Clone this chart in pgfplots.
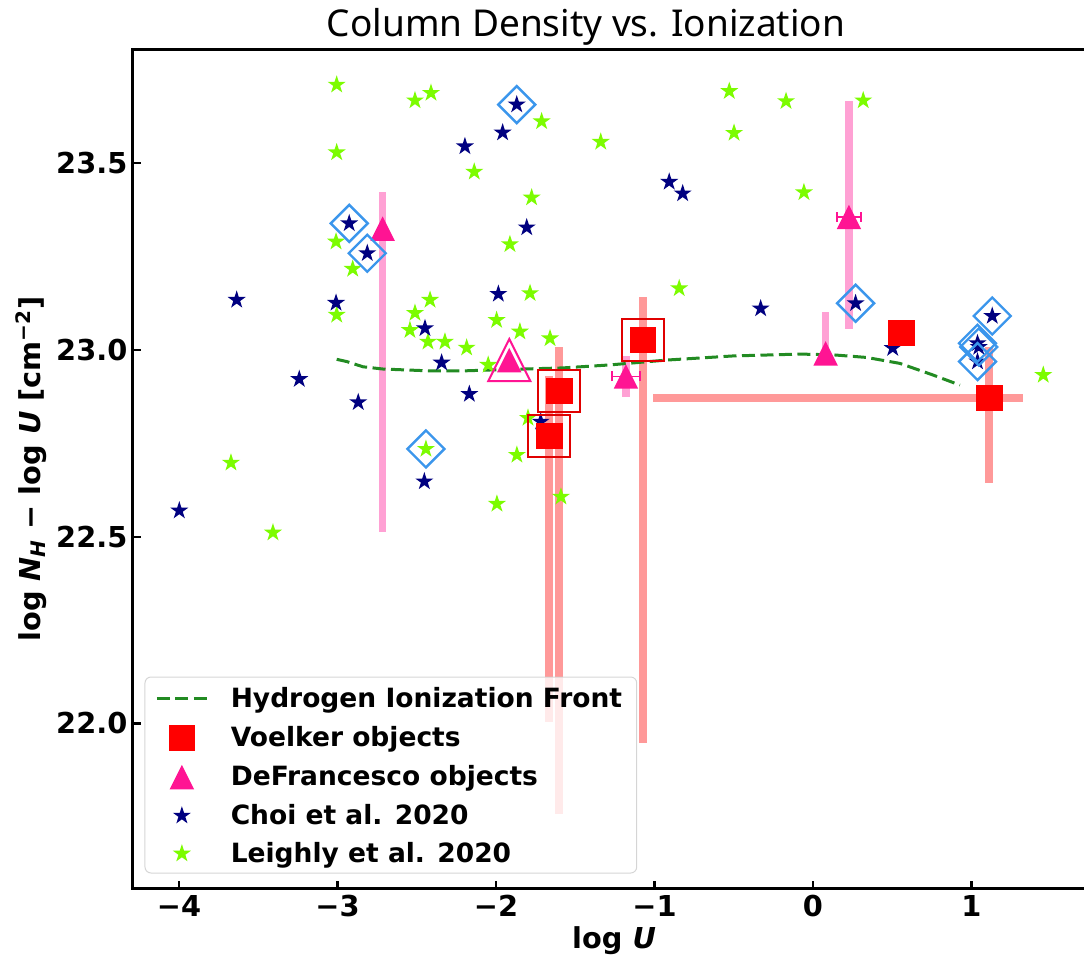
\documentclass[border=0pt]{standalone}
\usepackage{fontspec}
\setmainfont{DejaVu Sans}
\newfontfamily\titlefont{Noto Sans}
\usepackage{pgfplots}
\pgfplotsset{compat=1.18}
\usetikzlibrary{plotmarks}

\definecolor{vbar}{HTML}{FF9999}
\definecolor{pbar}{HTML}{FFA1D4}
\definecolor{dpink}{HTML}{FF1493}
\definecolor{navyc}{HTML}{000080}
\definecolor{lgreen}{HTML}{7CFC00}
\definecolor{fgreen}{HTML}{228B22}
\definecolor{dblue}{HTML}{3B96EC}
\definecolor{boxred}{HTML}{E00000}

\pgfdeclareplotmark{fstar}{%
  \pgfpathmoveto{\pgfpointpolar{90}{\pgfplotmarksize}}%
  \pgfpathlineto{\pgfpointpolar{126}{0.382\pgfplotmarksize}}%
  \pgfpathlineto{\pgfpointpolar{162}{\pgfplotmarksize}}%
  \pgfpathlineto{\pgfpointpolar{198}{0.382\pgfplotmarksize}}%
  \pgfpathlineto{\pgfpointpolar{234}{\pgfplotmarksize}}%
  \pgfpathlineto{\pgfpointpolar{270}{0.382\pgfplotmarksize}}%
  \pgfpathlineto{\pgfpointpolar{306}{\pgfplotmarksize}}%
  \pgfpathlineto{\pgfpointpolar{342}{0.382\pgfplotmarksize}}%
  \pgfpathlineto{\pgfpointpolar{18}{\pgfplotmarksize}}%
  \pgfpathlineto{\pgfpointpolar{54}{0.382\pgfplotmarksize}}%
  \pgfpathclose
  \pgfusepathqfill
}
\pgfdeclareplotmark{mtri}{%
  \pgfpathmoveto{\pgfqpoint{0pt}{\pgfplotmarksize}}%
  \pgfpathlineto{\pgfqpoint{-\pgfplotmarksize}{-\pgfplotmarksize}}%
  \pgfpathlineto{\pgfqpoint{\pgfplotmarksize}{-\pgfplotmarksize}}%
  \pgfpathclose
  \pgfusepathqfill
}
\pgfdeclareplotmark{mtrio}{%
  \pgfpathmoveto{\pgfqpoint{0pt}{\pgfplotmarksize}}%
  \pgfpathlineto{\pgfqpoint{-\pgfplotmarksize}{-\pgfplotmarksize}}%
  \pgfpathlineto{\pgfqpoint{\pgfplotmarksize}{-\pgfplotmarksize}}%
  \pgfpathclose
  \pgfusepathqstroke
}
\pgfdeclareplotmark{mdia}{%
  \pgfpathmoveto{\pgfqpoint{0pt}{\pgfplotmarksize}}%
  \pgfpathlineto{\pgfqpoint{\pgfplotmarksize}{0pt}}%
  \pgfpathlineto{\pgfqpoint{0pt}{-\pgfplotmarksize}}%
  \pgfpathlineto{\pgfqpoint{-\pgfplotmarksize}{0pt}}%
  \pgfpathclose
  \pgfusepathqstroke
}

\pgfplotsset{markleg/.style={legend image code/.code={\path[draw=none,fill=none] (0pt,0pt) -- (25pt,0pt);
    \draw[##1, only marks] plot coordinates {(12.5pt,0pt)};}}}

\newcommand{\lstrut}{\rule[-3.1pt]{0pt}{10.1pt}}

\begin{document}
\begin{tikzpicture}
\begin{axis}[
  scale only axis, width=475.65pt, height=419.65pt,
  xmin=-4.292, xmax=1.71, ymin=21.558, ymax=23.805,
  clip=false,
  axis line style={draw=none},
  tick align=inside, tick pos=left,
  major tick length=4pt,
  every tick/.style={black, line width=1.1pt},
  xtick={-4,-3,-2,-1,0,1}, xticklabels={−4,−3,−2,−1,0,1},
  ytick={22,22.5,23,23.5}, yticklabels={22.0,22.5,23.0,23.5},
  minor tick num=0,
  ticklabel style={font=\fontsize{14.4}{16}\selectfont\bfseries},
  xticklabel style={anchor=base, yshift=-14.05pt, inner sep=0pt},
  yticklabel style={anchor=east, inner sep=0pt, xshift=-2.5pt},
  legend style={at={(0.01293,0.01859)}, anchor=south west, draw=none, fill=none,
    inner xsep=5pt, inner ysep=3.7pt, /tikz/row sep=7.4pt, /tikz/column sep=11.2pt,
    nodes={inner sep=0pt}, font=\fontsize{13.25}{15}\selectfont\bfseries},
  legend cell align=left,
  legend image code/.code={\draw[mark repeat=2,mark phase=2,#1] plot coordinates {(0pt,0pt) (12.5pt,0pt) (25pt,0pt)};},
]
% legend images
\addlegendimage{fgreen, line width=1.5pt, dash pattern=on 6.5pt off 2.75pt}
\addlegendentry{\lstrut Hydrogen Ionization Front}
\addlegendimage{markleg, mark=square*, mark size=6.3pt, color=red, line width=0.3pt}
\addlegendentry{\lstrut Voelker objects}
\addlegendimage{markleg, mark=mtri, mark size=6.1pt, color=dpink}
\addlegendentry{\lstrut DeFrancesco objects}
\addlegendimage{markleg, mark=fstar, mark size=4.75pt, color=navyc}
\addlegendentry{\lstrut Choi et al. 2020}
\addlegendimage{markleg, mark=fstar, mark size=4.75pt, color=lgreen}
\addlegendentry{\lstrut Leighly et al. 2020}

% Voelker error bars
\addplot[forget plot, draw=none, mark=none,
  error bars/.cd, y dir=both, y explicit, error mark=none,
  error bar style={line width=3.8pt, draw=vbar}] coordinates {
  (-1.664,22.770) += (0,0.160) -= (0,0.765)
  (-1.601,22.890) += (0,0.119) -= (0,1.133)
  (-1.074,23.027) += (0,0.115) -= (0,1.078)
  (1.112,22.872) += (0,0.137) -= (0,0.227)
};
\addplot[forget plot, draw=none, mark=none,
  error bars/.cd, x dir=both, x explicit, error mark=none,
  error bar style={line width=3.8pt, draw=vbar}] coordinates {
  (1.112,22.872) += (0.215,0) -= (2.120,0)
};
% DeFrancesco error bars
\addplot[forget plot, draw=none, mark=none,
  error bars/.cd, y dir=both, y explicit, error mark=none,
  error bar style={line width=3.8pt, draw=pbar}] coordinates {
  (-2.715,23.325) += (0,0.098) -= (0,0.811)
  (-1.180,22.929) += (0,0.055) -= (0,0.055)
  (0.080,22.991) += (0,0.111) -= (0,0.030)
  (0.227,23.356) += (0,0.310) -= (0,0.301)
};

% Hydrogen ionization front
\addplot[forget plot, fgreen, line width=1.5pt, dash pattern=on 6.5pt off 2.75pt] coordinates {
  (-3.005,22.975) (-2.942,22.969) (-2.839,22.955) (-2.713,22.949) (-2.416,22.944)
  (-2.208,22.944) (-1.996,22.947) (-1.577,22.952) (-1.281,22.960) (-0.923,22.973)
  (-0.505,22.984) (-0.082,22.989) (0.126,22.987) (0.339,22.980) (0.549,22.964)
  (0.757,22.933) (0.927,22.906)
};

% Leighly et al. 2020
\addplot[forget plot, only marks, mark=fstar, mark size=4.75pt, color=lgreen] coordinates {
  (-3.005,23.710) (-3.005,23.529) (-2.511,23.668) (-2.410,23.688) (-1.712,23.612)
  (-1.339,23.557) (-2.137,23.477) (-1.775,23.408) (-3.009,23.290) (-2.904,23.217)
  (-1.912,23.283) (-1.785,23.152) (-3.005,23.094) (-2.416,23.134) (-2.511,23.099)
  (-2.543,23.053) (-2.429,23.022) (-2.322,23.022) (-2.185,23.006) (-1.996,23.080)
  (-1.849,23.049) (-1.659,23.031) (-2.049,22.960) (-2.442,22.735) (-1.798,22.818)
  (-1.868,22.719) (-1.590,22.607) (-1.994,22.588) (-3.672,22.698) (-3.407,22.511)
  (-0.528,23.693) (-0.170,23.666) (0.317,23.668) (-0.498,23.581) (-0.057,23.422)
  (-0.844,23.165) (1.453,22.933)
};
% Choi et al. 2020
\addplot[forget plot, only marks, mark=fstar, mark size=4.75pt, color=navyc] coordinates {
  (-1.869,23.657) (-1.958,23.582) (-2.196,23.545) (-1.806,23.328) (-2.926,23.339)
  (-2.812,23.259) (-3.636,23.134) (-3.009,23.126) (-1.985,23.150) (-2.448,23.058)
  (-2.343,22.966) (-3.241,22.922) (-2.869,22.860) (-2.168,22.882) (-2.452,22.648)
  (-3.998,22.570) (-1.718,22.808) (-0.907,23.450) (-0.822,23.419) (0.269,23.125)
  (-0.330,23.111) (1.131,23.091) (0.503,23.005) (1.038,23.018) (1.046,23.008)
  (1.038,22.969)
};
% Voelker objects
\addplot[forget plot, only marks, mark=square*, mark size=6.3pt, color=red, line width=0.3pt] coordinates {
  (-1.664,22.770) (-1.601,22.890) (-1.074,23.027) (0.557,23.045) (1.112,22.872)
};
% DeFrancesco objects
\addplot[forget plot, only marks, mark=mtri, mark size=6.1pt, color=dpink] coordinates {
  (-2.715,23.325) (-1.916,22.973) (-1.180,22.929) (0.080,22.991) (0.227,23.356)
};
\addplot[forget plot, draw=none, mark=none,
  error bars/.cd, x dir=both, x explicit, error mark=|,
  error mark options={mark size=2.5pt, line width=0.75pt, dpink},
  error bar style={line width=0.75pt, draw=dpink}] coordinates {
  (-1.180,22.929) +- (0.089,0)
  (0.227,23.356) +- (0.077,0)
};
% highlighted objects
\addplot[forget plot, only marks, mark=square, mark size=10.6pt, color=boxred, line width=1pt] coordinates {
  (-1.664,22.770) (-1.601,22.890) (-1.074,23.027)
};
\addplot[forget plot, only marks, mark=mtrio, mark size=10.5pt, color=dpink, line width=1pt] coordinates {
  (-1.916,22.973)
};
\addplot[forget plot, only marks, mark=mdia, mark size=9.25pt, color=dblue, line width=1.2pt] coordinates {
  (-1.869,23.657) (-2.926,23.339) (-2.812,23.259) (-2.442,22.735) (0.269,23.125)
  (1.131,23.091) (1.038,23.018) (1.046,23.008) (1.038,22.969)
};

% legend background
\draw[fill=white, fill opacity=0.8, draw=black!20, draw opacity=0.8, rounded corners=3pt, line width=0.5pt]
  (rel axis cs:0.01293,0.01859) rectangle (rel axis cs:0.5298,0.2521);

% spines
\draw[line width=1.35pt, line cap=rect] (rel axis cs:1.03,1) -- (rel axis cs:0,1) -- (rel axis cs:0,0) -- (rel axis cs:1.03,0);

% title and labels
\node[anchor=base, yshift=6.15pt, font=\titlefont\fontsize{18.5}{20}\selectfont] at (rel axis cs:0.4765,1) {Column Density vs. Ionization};
\node[anchor=base, yshift=-29.7pt, font=\fontsize{14.4}{16}\selectfont\bfseries] at (rel axis cs:0.506,0) {log \textit{U}};
\node[xshift=-45.85pt, rotate=90, anchor=base, font=\fontsize{14.4}{16}\selectfont\bfseries] at (rel axis cs:0,0.5) {log \textit{N}\textsubscript{\textit{H}} − log \textit{U} [cm\textsuperscript{−2}]};
\end{axis}
\pgfresetboundingbox
\path[use as bounding box] ([xshift=-66.35pt,yshift=-34.2pt]current axis.south west) rectangle ([yshift=24.65pt]current axis.north east);
\end{tikzpicture}
\end{document}
